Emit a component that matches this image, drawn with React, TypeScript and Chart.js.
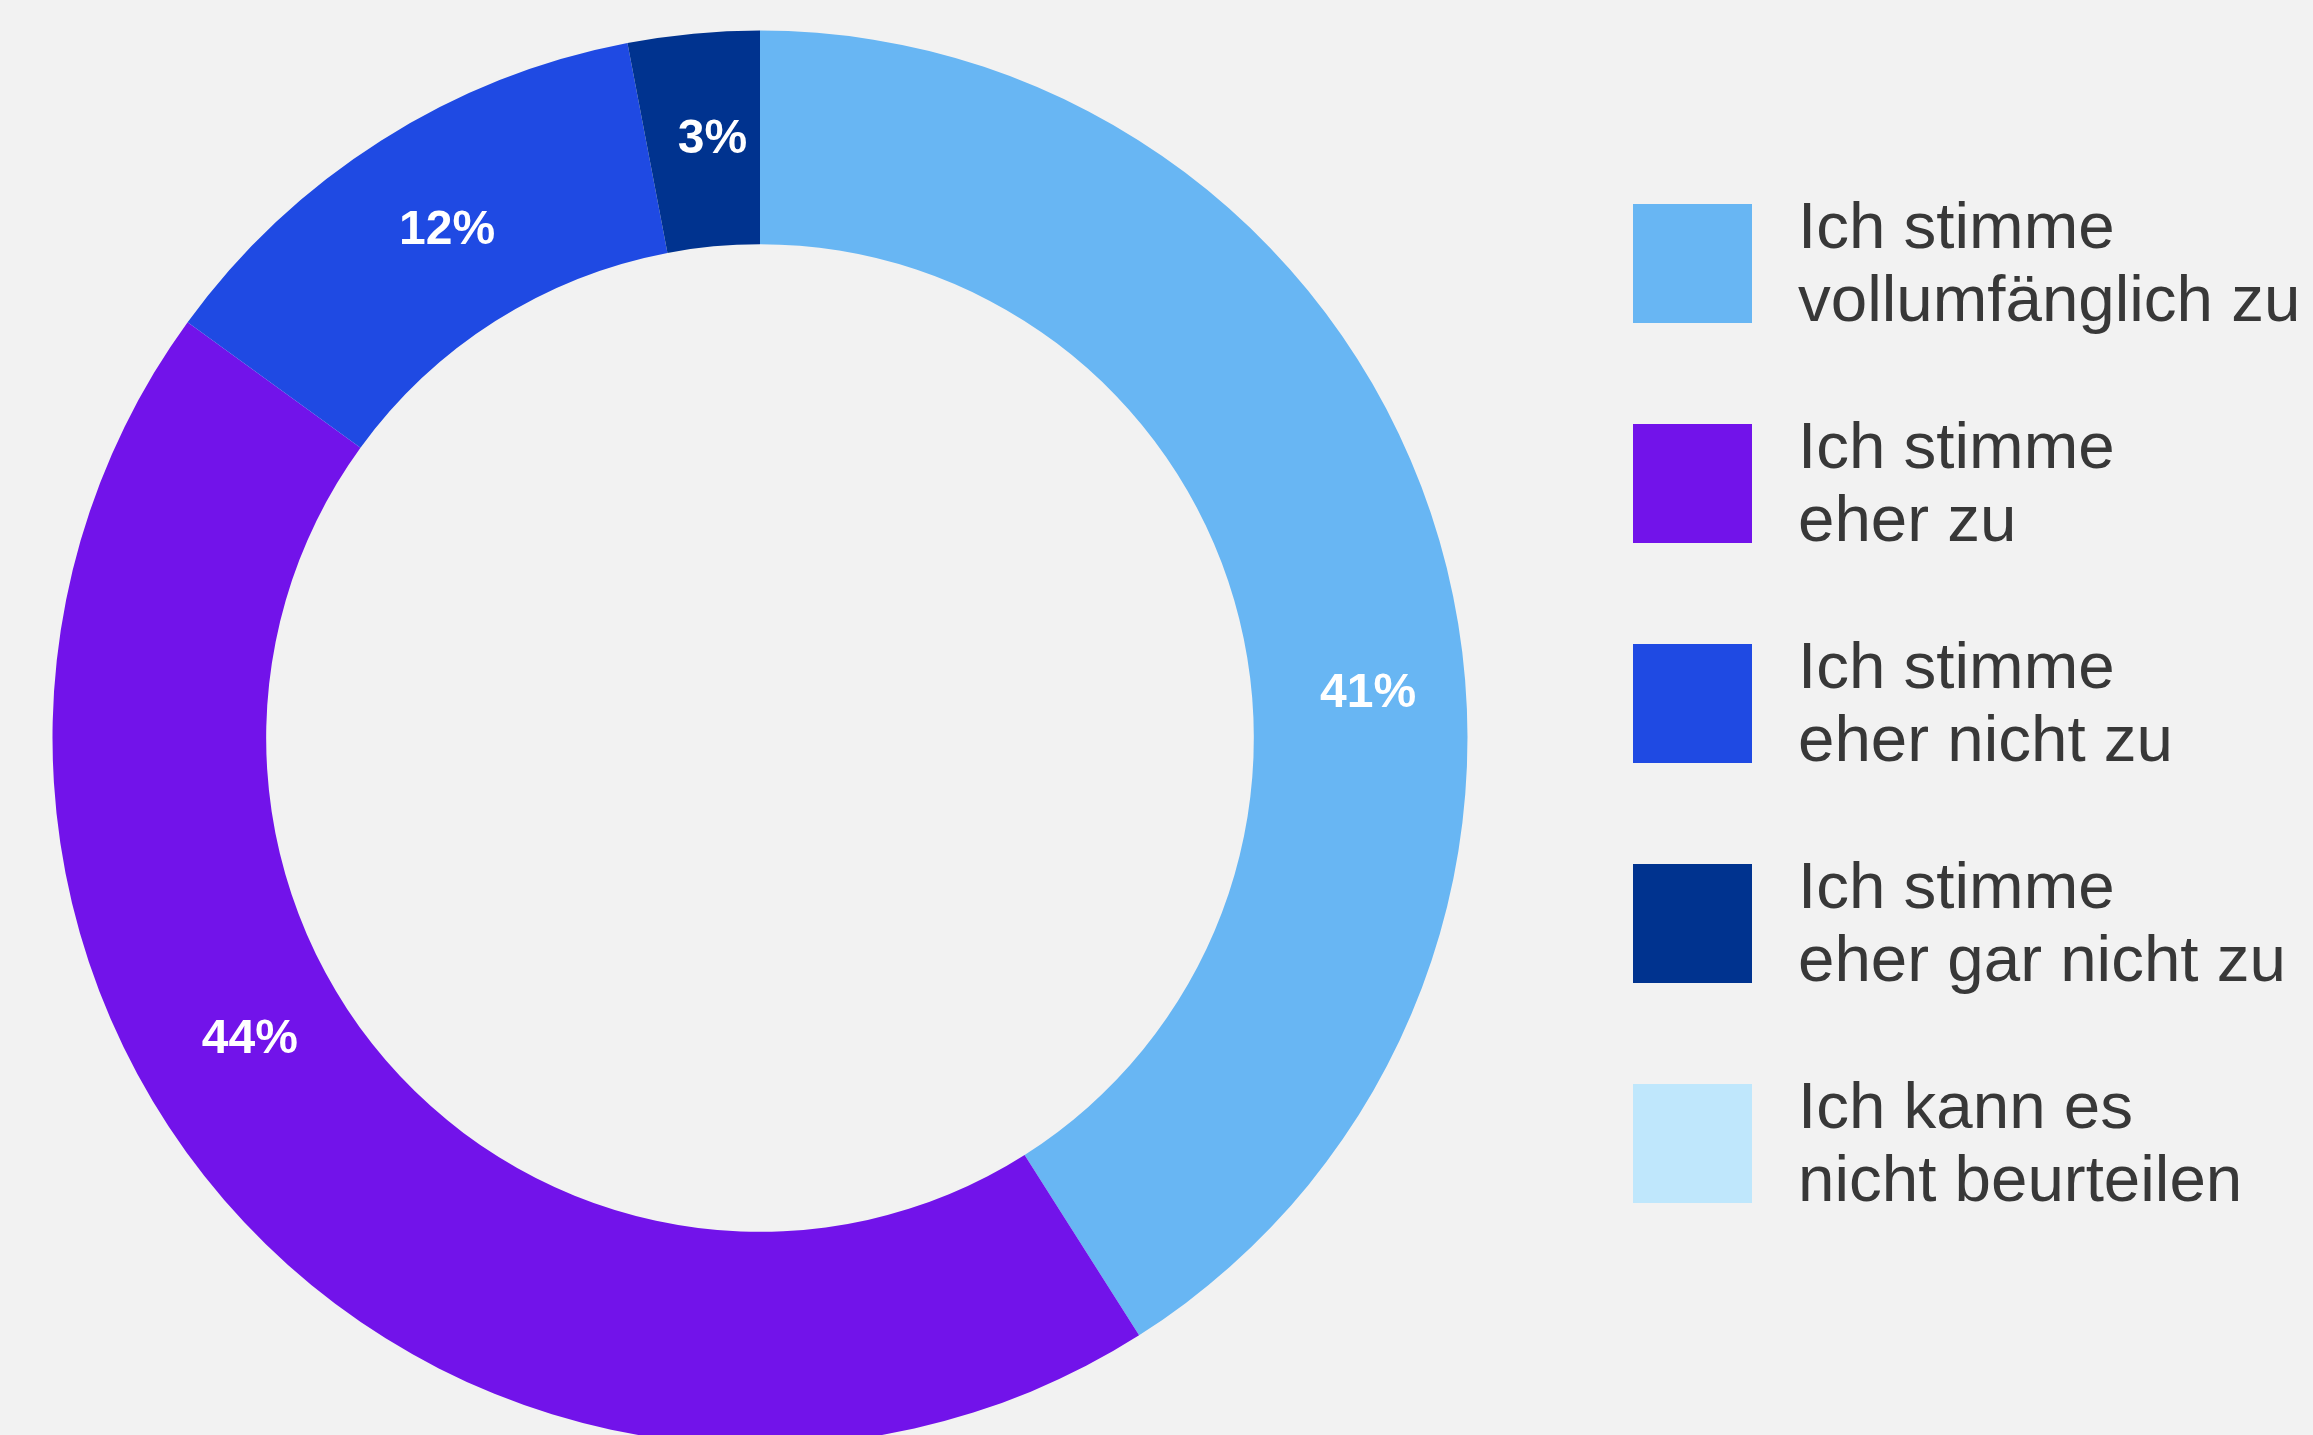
import React, { useEffect, useRef } from "react";
import { Chart, ArcElement, DoughnutController } from "chart.js";

Chart.register(ArcElement, DoughnutController);

// ---- data ----
const categoryLines: string[][] = [
  ["Ich stimme", "vollumfänglich zu"],
  ["Ich stimme", "eher zu"],
  ["Ich stimme", "eher nicht zu"],
  ["Ich stimme", "eher gar nicht zu"],
  ["Ich kann es", "nicht beurteilen"],
];
const shares = [41, 44, 12, 3, 0];
const sliceColors = ["#68B6F3", "#7213EA", "#1F4AE3", "#00338F", "#BFE7FC"];

// ---- style ----
const W = 2313;
const H = 1435;
const CANVAS_H = 1476;
const BG = "#F2F2F2";
const TEXT_COLOR = "#383838";
const labelAngleShiftDeg = [12, 13, 0, 0, 0];
const labelOffsetX = 9;

const legendStyle = {
  boxX: 1633,
  firstBoxY: 204,
  step: 220,
  box: 119,
  textX: 1798,
  line1Offset: 44,
  line2Offset: 116.5,
  font: '65.5px "Liberation Sans", Arial, sans-serif',
};

const valueLabelPlugin = {
  id: "valueLabels",
  afterDatasetsDraw(chart: any) {
    const ctx = chart.ctx;
    const meta = chart.getDatasetMeta(0);
    ctx.save();
    ctx.fillStyle = "#FFFFFF";
    ctx.font = 'bold 48px "Liberation Sans", Arial, sans-serif';
    ctx.textAlign = "center";
    ctx.textBaseline = "middle";
    meta.data.forEach((arc: any, i: number) => {
      const v = shares[i];
      if (!v) return;
      const p = arc.getProps(
        ["x", "y", "startAngle", "endAngle", "innerRadius", "outerRadius"],
        true
      );
      const mid =
        (p.startAngle + p.endAngle) / 2 +
        (labelAngleShiftDeg[i] * Math.PI) / 180;
      const r = (p.innerRadius + p.outerRadius) / 2;
      ctx.fillText(
        v + "%",
        p.x + Math.cos(mid) * r + labelOffsetX,
        p.y + Math.sin(mid) * r
      );
    });
    ctx.restore();
  },
};

const customLegendPlugin = {
  id: "customLegend",
  afterDraw(chart: any) {
    const ctx = chart.ctx;
    const labels = chart.data.labels as string[][];
    const colors = chart.data.datasets[0].backgroundColor as string[];
    ctx.save();
    ctx.font = legendStyle.font;
    ctx.textAlign = "left";
    ctx.textBaseline = "alphabetic";
    labels.forEach((lines, i) => {
      const top = legendStyle.firstBoxY + i * legendStyle.step;
      ctx.fillStyle = colors[i];
      ctx.fillRect(legendStyle.boxX, top, legendStyle.box, legendStyle.box);
      ctx.fillStyle = TEXT_COLOR;
      ctx.fillText(lines[0], legendStyle.textX, top + legendStyle.line1Offset);
      ctx.fillText(lines[1], legendStyle.textX, top + legendStyle.line2Offset);
    });
    ctx.restore();
  },
};

export default function App() {
  const ref = useRef<HTMLCanvasElement | null>(null);

  useEffect(() => {
    document.body.style.margin = "0";
    document.body.style.background = BG;
    const canvas = ref.current;
    if (!canvas) return;
    const chart = new Chart(canvas, {
      type: "doughnut",
      data: {
        labels: categoryLines as any,
        datasets: [
          {
            data: shares,
            backgroundColor: sliceColors,
            borderWidth: 0,
            hoverOffset: 0,
          },
        ],
      },
      options: {
        responsive: false,
        animation: false,
        cutout: "69.8%",
        layout: {
          padding: { left: 52.5, right: 845.5, top: 30.5, bottom: 30.5 },
        },
        plugins: {
          legend: { display: false },
          tooltip: { enabled: false },
        },
        events: [],
      },
      plugins: [valueLabelPlugin, customLegendPlugin],
    });
    return () => chart.destroy();
  }, []);

  return (
    <div
      style={{
        position: "fixed",
        left: 0,
        top: 0,
        width: W,
        height: H,
        overflow: "hidden",
        background: BG,
      }}
    >
      <canvas
        ref={ref}
        width={W}
        height={CANVAS_H}
        style={{ width: W, height: CANVAS_H, display: "block" }}
      />
    </div>
  );
}
